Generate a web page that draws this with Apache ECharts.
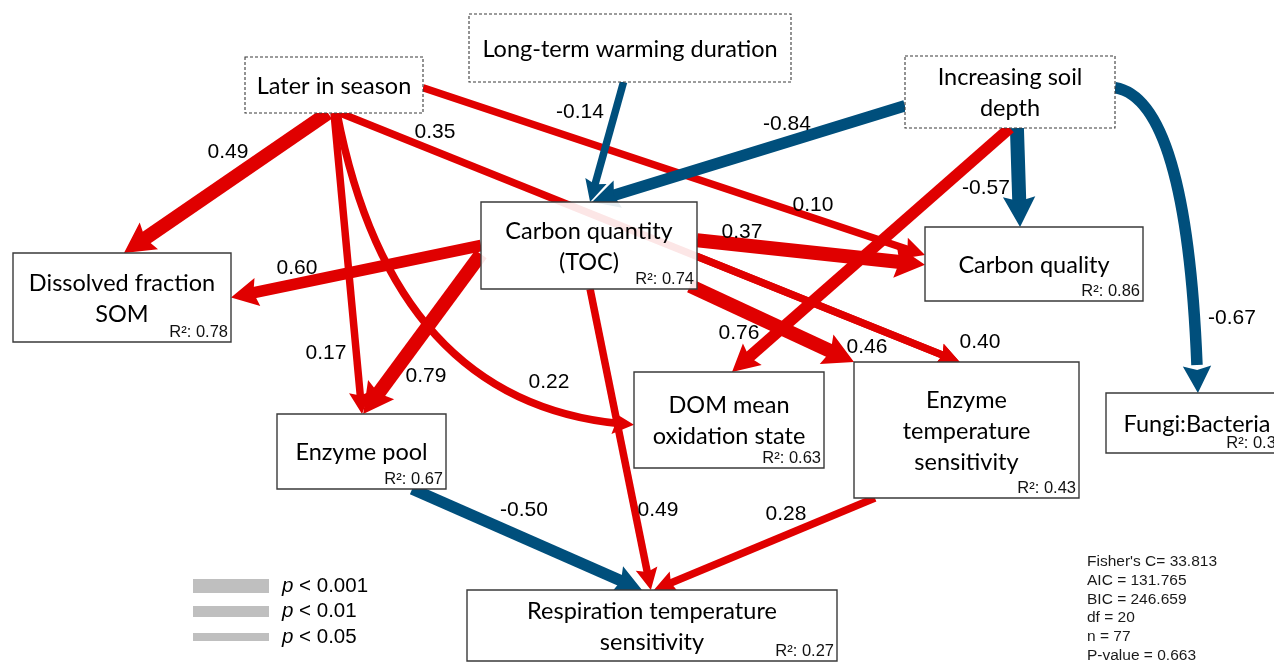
<!DOCTYPE html>
<html><head><meta charset="utf-8">
<script src="https://cdn.jsdelivr.net/npm/echarts/dist/echarts.min.js"></script>
<style>html,body{margin:0;padding:0;background:#fff}#c{width:1274px;height:663px}</style>
</head><body><div id="c"></div>
<script>
// ---------------- data ----------------
const nodeIds = ['later','warm','depth','toc','dsom','cqual','epool','dom','etemp','fb','resp'];
const nodeLabels = ['Later in season','Long-term warming duration','Increasing soil\ndepth','Carbon quantity\n(TOC)','Dissolved fraction\nSOM','Carbon quality','Enzyme pool','DOM mean\noxidation state','Enzyme\ntemperature\nsensitivity','Fungi:Bacteria','Respiration temperature\nsensitivity'];
const nodeR2 = [null,null,null,0.74,0.78,0.86,0.67,0.63,0.43,0.31,0.27];
const nodeExogenous = [true,true,true,false,false,false,false,false,false,false,false];

const edgeFrom = ['later','later','later','later','later','warm','depth','depth','depth','depth','toc','toc','toc','toc','toc','toc','epool','etemp'];
const edgeTo   = ['dsom','epool','dom','etemp','cqual','toc','toc','cqual','dom','fb','dsom','epool','cqual','etemp','etemp','resp','resp','resp'];
const edgeCoef = [0.49,0.17,0.22,0.35,0.10,-0.14,-0.84,-0.57,0.76,-0.67,0.60,0.79,0.37,0.46,0.40,0.49,-0.50,0.28];
const edgeSig  = [1,3,3,3,3,3,2,1,2,2,2,1,1,1,3,3,2,3]; // 1: p<0.001, 2: p<0.01, 3: p<0.05

const sigLabels = ['0.001','0.01','0.05'];
const fitStats = ["Fisher's C= 33.813","AIC = 131.765","BIC = 246.659","df = 20","n = 77","P-value = 0.663"];

// ---------------- layout (pixel space) ----------------
const nodeBox = [
  [245,57,423,113],[469,14,791,82],[905,56,1115,128],[481,202,697,289],
  [13,253,231,342],[925,227,1143,301],[277,414,446,489],[634,372,824,468],
  [854,362,1079,498],[1106,393,1288,453],[467,590,837,661]
];
const edgeSrcAnchor = [[0.466,1],[0.5,1],[0.517,1],[0.534,1],[1,0.55],[0.48,1],[0,0.69],[0.533,1],[0.5,1],[1,0.44],[0,0.5],[0,0.6],[1,0.44],[0.968,0.965],[1,0.625],[0.505,1],[0.8,1],[0.093,1]];
const edgeDstAnchor = [[0.509,0],[0.503,0],[0,0.55],[0.47,0],[0,0.38],[0.505,0],[0.514,0],[0.436,0],[0.516,0],[0.505,0],[1,0.5],[0.51,0],[0,0.51],[0,0],[0.47,0],[0.497,0],[0.473,0],[0.505,0]];
const edgeCtrl = [null,null,[394,410],null,null,null,null,null,null,[1190,100],null,null,null,null,null,null,null,null];
const edgeLabelPos = [[228,152],[326,353],[549,382],[435,132],[813,205],[580,112],[787,124],[986,188],[739,333],[1232,318],[297,268],[426,376],[742,232],[867,347],[980,342],[658,510],[524,510],[786,514]];
const sigWidth = [14,11.5,7.5];
const legendBarH = [14,11,8];

const RED = '#e00000', BLUE = '#004f7c';
const NODE_FONT = 'Lato, "Open Sans", sans-serif';
const NUM_FONT = '"Liberation Sans", Arial, sans-serif';

function nIdx(id){ return nodeIds.indexOf(id); }
function anchorPt(id, a){ const b = nodeBox[nIdx(id)]; return [b[0]+a[0]*(b[2]-b[0]), b[1]+a[1]*(b[3]-b[1])]; }
function norm(v){ const l = Math.hypot(v[0],v[1]); return [v[0]/l, v[1]/l]; }
function quad(p0,c,p2,t){ const u=1-t; return [u*u*p0[0]+2*u*t*c[0]+t*t*p2[0], u*u*p0[1]+2*u*t*c[1]+t*t*p2[1]]; }

function renderEdge(params, api){
  const i = params.dataIndex;
  const ps = api.coord(anchorPt(edgeFrom[i], edgeSrcAnchor[i]));
  const pe = api.coord(anchorPt(edgeTo[i], edgeDstAnchor[i]));
  const w = sigWidth[edgeSig[i]-1];
  const color = edgeCoef[i] < 0 ? BLUE : RED;
  const hl = 12 + 1.3*w, hw = 10 + 1.6*w;
  const children = [];
  let dir;
  if (edgeCtrl[i]) {
    const pc = api.coord(edgeCtrl[i]);
    let len = 0, prev = ps;
    for (let k=1;k<=40;k++){ const q = quad(ps,pc,pe,k/40); len += Math.hypot(q[0]-prev[0], q[1]-prev[1]); prev = q; }
    const t0 = 1 - hl*0.6/len;
    const c1 = [ps[0]+t0*(pc[0]-ps[0]), ps[1]+t0*(pc[1]-ps[1])];
    const bt = quad(ps,pc,pe,t0);
    children.push({type:'bezierCurve', shape:{x1:ps[0],y1:ps[1],x2:bt[0],y2:bt[1],cpx1:c1[0],cpy1:c1[1]}, style:{stroke:color,lineWidth:w,fill:'none'}});
    dir = norm([pe[0]-bt[0], pe[1]-bt[1]]);
  } else {
    dir = norm([pe[0]-ps[0], pe[1]-ps[1]]);
    const le = [pe[0]-dir[0]*hl*0.6, pe[1]-dir[1]*hl*0.6];
    children.push({type:'line', shape:{x1:ps[0],y1:ps[1],x2:le[0],y2:le[1]}, style:{stroke:color,lineWidth:w,fill:'none'}});
  }
  const base = [pe[0]-dir[0]*hl, pe[1]-dir[1]*hl];
  const notch = [pe[0]-dir[0]*hl*0.85, pe[1]-dir[1]*hl*0.85];
  const perp = [-dir[1], dir[0]];
  children.push({type:'polygon', shape:{points:[pe,[base[0]+perp[0]*hw/2, base[1]+perp[1]*hw/2],notch,[base[0]-perp[0]*hw/2, base[1]-perp[1]*hw/2]]}, style:{fill:color, stroke:'none'}});
  return {type:'group', children};
}

function renderNode(params, api){
  const i = params.dataIndex;
  const b = nodeBox[i];
  const p0 = api.coord([b[0],b[1]]), p1 = api.coord([b[2],b[3]]);
  const x = Math.min(p0[0],p1[0]), y = Math.min(p0[1],p1[1]);
  const w = Math.abs(p1[0]-p0[0]), h = Math.abs(p1[1]-p0[1]);
  const children = [];
  const fill = nodeIds[i] === 'toc' ? 'rgba(255,255,255,0.9)' : '#fff';
  children.push({type:'rect', shape:{x:x,y:y,width:w,height:h}, style:{fill:fill, stroke: '#3a3a3a', lineWidth: nodeExogenous[i] ? 1.1 : 1.4, lineDash: nodeExogenous[i] ? [3,2] : null}});
  children.push({type:'text', style:{text:nodeLabels[i], x:x+w/2, y:y+h/2+1, align:'center', verticalAlign:'middle', textAlign:'center', textVerticalAlign:'middle', fontSize:23.5, fontFamily:NODE_FONT, lineHeight:31, fill:'#000'}});
  if (nodeR2[i] !== null) {
    children.push({type:'text', style:{text:'R\u00b2: ' + nodeR2[i].toFixed(2), x:x+w-3, y:y+h-1, align:'right', verticalAlign:'bottom', textAlign:'right', textVerticalAlign:'bottom', fontSize:16.5, fontFamily:NUM_FONT, fill:'#111'}});
  }
  return {type:'group', children};
}

function renderLabel(params, api){
  const i = params.dataIndex;
  const p = api.coord(edgeLabelPos[i]);
  return {type:'text', style:{text:edgeCoef[i].toFixed(2), x:p[0], y:p[1], align:'center', verticalAlign:'middle', textAlign:'center', textVerticalAlign:'middle', fontSize:21, fontFamily:NUM_FONT, fill:'#000'}};
}

function renderLegend(params, api){
  const i = params.dataIndex;
  const cy = 586 + i*25.5;
  const a = api.coord([193, cy]), b = api.coord([269, cy]);
  const t = api.coord([282, cy]);
  const hh = legendBarH[i];
  return {type:'group', children:[
    {type:'rect', shape:{x:a[0], y:a[1]-hh/2, width:b[0]-a[0], height:hh}, style:{fill:'#bfbfbf'}},
    {type:'text', style:{text:'{i|p} < ' + sigLabels[i], x:t[0], y:t[1], align:'left', verticalAlign:'middle', textAlign:'left', textVerticalAlign:'middle', fontSize:20.5, fontFamily:NUM_FONT, fill:'#000', rich:{i:{fontStyle:'italic', fontSize:20.5, fontFamily:NUM_FONT, fill:'#000'}}}}
  ]};
}

function renderStats(params, api){
  const i = params.dataIndex;
  const p = api.coord([1087, 562 + i*18.7]);
  return {type:'text', style:{text:fitStats[i], x:p[0], y:p[1], align:'left', verticalAlign:'middle', textAlign:'left', textVerticalAlign:'middle', fontSize:15.5, fontFamily:NUM_FONT, fill:'#1a1a1a'}};
}

const chart = echarts.init(document.getElementById('c'), null, {renderer:'canvas'});
chart.setOption({
  animation:false,
  backgroundColor:'#fff',
  grid:{left:0,right:0,top:0,bottom:0},
  xAxis:{type:'value',min:0,max:1274,show:false},
  yAxis:{type:'value',min:0,max:663,inverse:true,show:false},
  series:[
    {type:'custom', coordinateSystem:'cartesian2d', z:2, clip:false, renderItem:renderEdge, data:edgeCoef.map((v,i)=>[i,v])},
    {type:'custom', coordinateSystem:'cartesian2d', z:3, clip:false, renderItem:renderNode, data:nodeIds.map((v,i)=>[i])},
    {type:'custom', coordinateSystem:'cartesian2d', z:4, clip:false, renderItem:renderLabel, data:edgeCoef.map((v,i)=>[i,v])},
    {type:'custom', coordinateSystem:'cartesian2d', z:4, clip:false, renderItem:renderLegend, data:sigLabels.map((v,i)=>[i])},
    {type:'custom', coordinateSystem:'cartesian2d', z:4, clip:false, renderItem:renderStats, data:fitStats.map((v,i)=>[i])}
  ]
});
</script></body></html>
